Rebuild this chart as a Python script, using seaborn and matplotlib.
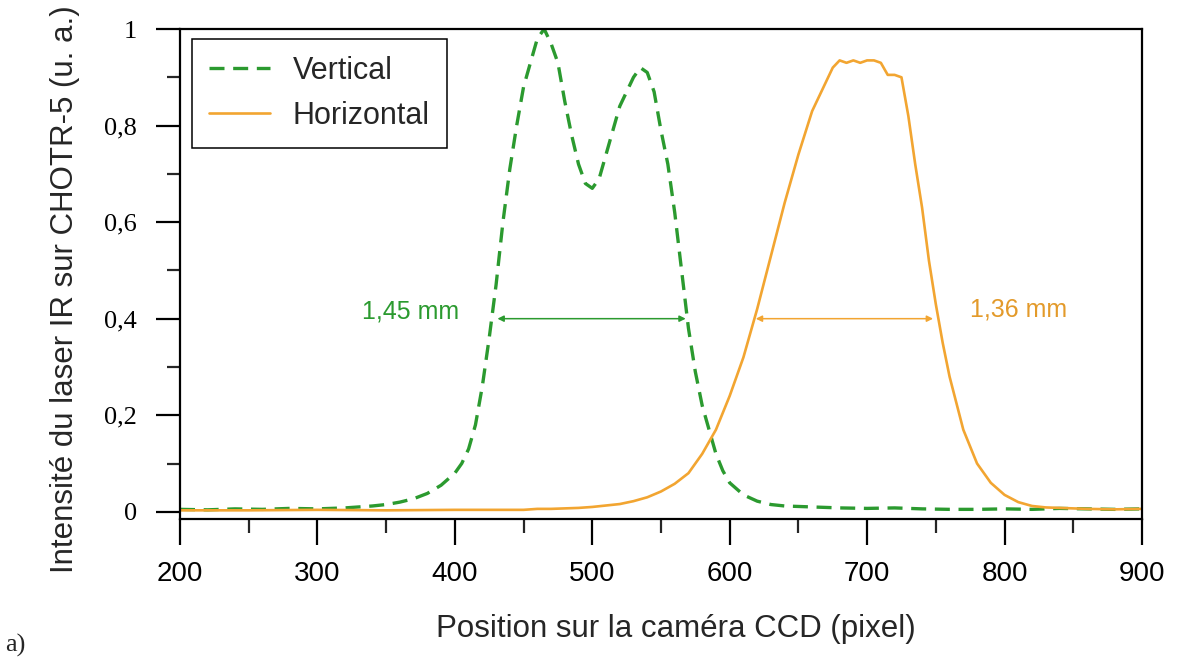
import numpy as np
import pandas as pd
import matplotlib
matplotlib.use("Agg")
import matplotlib.pyplot as plt
import seaborn as sns

# Profil vertical (vert, pointillé)
x_vertical = [200, 220, 240, 260, 280, 300, 320, 340, 350, 360, 370, 380, 390,
              400, 405, 410, 415, 420, 425, 430, 435, 440, 445, 450, 455, 460,
              465, 470, 475, 480, 485, 490, 495, 500, 505, 510, 515, 520, 525,
              530, 535, 540, 545, 550, 555, 560, 565, 570, 575, 580, 585, 590,
              595, 600, 610, 620, 630, 640, 660, 680, 700, 720, 740, 760, 780,
              800, 820, 840, 860, 880, 900]
y_vertical = [0.005, 0.004, 0.006, 0.005, 0.007, 0.006, 0.008, 0.012, 0.015, 0.02,
              0.027, 0.038, 0.055, 0.08, 0.10, 0.13, 0.18, 0.26, 0.36, 0.47, 0.60,
              0.71, 0.80, 0.88, 0.93, 0.98, 1.0, 0.97, 0.93, 0.85, 0.78, 0.72, 0.68,
              0.67, 0.69, 0.74, 0.79, 0.84, 0.87, 0.90, 0.92, 0.91, 0.87, 0.79, 0.72,
              0.62, 0.50, 0.38, 0.29, 0.22, 0.17, 0.12, 0.085, 0.06, 0.035, 0.022,
              0.015, 0.012, 0.010, 0.008, 0.007, 0.008, 0.006, 0.005, 0.005, 0.006,
              0.005, 0.007, 0.006, 0.005, 0.006]

# Profil horizontal (orange, trait plein)
x_horizontal = [200, 250, 300, 350, 400, 450, 460, 470, 480, 490, 500, 510, 520,
                530, 540, 550, 560, 570, 580, 590, 600, 610, 620, 630, 640, 650,
                660, 670, 675, 680, 685, 690, 695, 700, 705, 710, 715, 720, 725,
                730, 735, 740, 745, 750, 755, 760, 770, 780, 790, 800, 810, 820,
                830, 840, 860, 880, 900]
y_horizontal = [0.003, 0.003, 0.004, 0.003, 0.004, 0.004, 0.006, 0.006, 0.007,
                0.008, 0.010, 0.013, 0.016, 0.022, 0.030, 0.042, 0.058, 0.08, 0.12,
                0.17, 0.24, 0.32, 0.42, 0.53, 0.64, 0.74, 0.83, 0.89, 0.92, 0.935,
                0.93, 0.935, 0.93, 0.935, 0.935, 0.93, 0.905, 0.905, 0.90, 0.82,
                0.72, 0.63, 0.52, 0.43, 0.35, 0.28, 0.17, 0.10, 0.06, 0.035, 0.02,
                0.012, 0.009, 0.008, 0.006, 0.005, 0.006]

series_labels = ["Vertical", "Horizontal"]
width_labels = ["1,45 mm", "1,36 mm"]
width_spans = [(431, 568), (619, 748)]
width_level = 0.4
width_text_pos = [(368, 0.415), (810, 0.42)]

x_ticks = [200, 300, 400, 500, 600, 700, 800, 900]
y_ticks = [0, 0.2, 0.4, 0.6, 0.8, 1.0]
y_tick_labels = ["0", "0,2", "0,4", "0,6", "0,8", "1"]

GREEN = "#2b9a2f"
ORANGE = "#f2a531"
ORANGE_TXT = "#e39a2a"

sns.set_theme(style="ticks")
plt.rcParams["font.family"] = ["Liberation Sans", "DejaVu Sans"]

df_v = pd.DataFrame({"x": x_vertical, "y": y_vertical})
df_h = pd.DataFrame({"x": x_horizontal, "y": y_horizontal})

fig = plt.figure(figsize=(11.78, 6.61), dpi=100)
ax = fig.add_axes([0.1528, 0.2148, 0.8166, 0.7413])

sns.lineplot(data=df_v, x="x", y="y", ax=ax, color=GREEN, linewidth=2.4,
             linestyle=(0, (4.5, 2.6)), label=series_labels[0])
sns.lineplot(data=df_h, x="x", y="y", ax=ax, color=ORANGE, linewidth=1.9,
             label=series_labels[1])

# flèches de largeur à mi-hauteur
for (x0, x1), col in zip(width_spans, [GREEN, ORANGE]):
    ax.annotate("", xy=(x0, width_level), xytext=(x1, width_level),
                arrowprops=dict(arrowstyle="<|-|>", color=col, lw=1.1,
                                mutation_scale=9, shrinkA=0, shrinkB=0))
for (tx, ty), txt, col in zip(width_text_pos, width_labels, [GREEN, ORANGE_TXT]):
    ax.text(tx, ty, txt, color=col, fontsize=18, ha="center", va="center")

ax.set_xlim(200, 900)
ax.set_ylim(-0.015, 1.0)
ax.set_xticks(x_ticks)
ax.set_xticks(np.arange(250, 900, 100), minor=True)
ax.set_yticks(y_ticks)
ax.set_yticklabels(y_tick_labels, fontfamily="Liberation Serif", fontsize=19)
ax.set_yticks(np.arange(0.1, 1.0, 0.2), minor=True)
ax.tick_params(axis="x", which="major", length=19, width=1.6, pad=11, labelsize=20,
               colors="black")
ax.tick_params(axis="x", which="minor", length=10, width=1.6)
ax.tick_params(axis="y", which="major", length=17, width=1.6, pad=14, colors="black")
ax.tick_params(axis="y", which="minor", length=9.5, width=1.6)
for s in ax.spines.values():
    s.set_linewidth(1.6)
    s.set_color("black")

ax.set_xlabel("Position sur la caméra CCD (pixel)", fontsize=22.5)
ax.set_ylabel("Intensité du laser IR sur CHOTR-5 (u. a.)", fontsize=22.5)
ax.xaxis.set_label_coords(0.515, -0.193)
ax.yaxis.set_label_coords(-0.104, 0.47)

leg = ax.legend(loc="upper left", bbox_to_anchor=(0.0125, 0.98), borderaxespad=0,
                fontsize=22, handlelength=2.0, handletextpad=0.75, labelspacing=0.5,
                borderpad=0.55, fancybox=False, framealpha=1, edgecolor="black")
leg.get_frame().set_linewidth(1.1)

fig.text(0.004, 1 - 645 / 661, "a)", fontfamily="Liberation Serif", fontsize=19,
         va="center", ha="left")

fig.savefig("out.png", dpi=100, facecolor="white")
